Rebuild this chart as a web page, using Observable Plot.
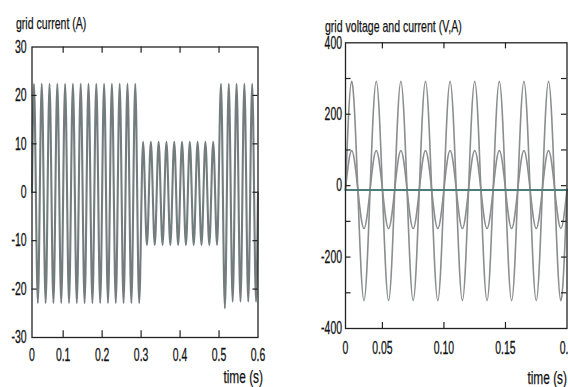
<!DOCTYPE html>
<html>
<head>
<meta charset="utf-8">
<script src="https://cdn.jsdelivr.net/npm/d3@7"></script>
<script src="https://cdn.jsdelivr.net/npm/@observablehq/plot@0.6"></script>
<style>
  html, body { margin: 0; padding: 0; background: #fff; }
  #wrap { position: relative; width: 568px; height: 387px; overflow: hidden; background: #fff; }
  #wrap > svg { position: absolute; left: 0; top: 0; }
  .lbl { position: absolute; font-family: "Liberation Sans", Arial, sans-serif; font-size: 17px; line-height: 1;
         transform: scaleX(0.62); transform-origin: left top; white-space: nowrap; color: #111;
         -webkit-text-stroke: 0.25px #111; }
  .lbl.r { font-size: 18px; transform: scaleX(0.66); transform-origin: right top; }
  svg text { stroke: #111; stroke-width: 0.3px; }
</style>
</head>
<body>
<div id="wrap">
  <div class="lbl" style="left:16px;top:15px">grid current (A)</div>
  <div class="lbl" style="left:325px;top:17.5px">grid voltage and current (V,A)</div>
  <div class="lbl r" style="right:305px;top:367.5px">time (s)</div>
  <div class="lbl r" style="right:1px;top:369px">time (s)</div>
</div>
<script>
// ---------------- Left panel: grid current (A) ----------------
const leftXTicks = [0.02, 0.1, 0.2, 0.3, 0.4, 0.5, 0.6];
const leftXLabels = ["0", "0.1", "0.2", "0.3", "0.4", "0.5", "0.6"];
const leftYTicks = [-30, -20, -10, 0, 10, 20, 30];
const leftFrameXTicks = [0.1, 0.2, 0.3, 0.4, 0.5];
const leftFrameYTicks = [-20, -10, 0, 10, 20];
// successive half-cycle extremes of the 50 Hz grid current (one every 0.01 s from 0.025 s)
const leftExtremes = [
  22.4, -22.9, 22.4, -22.9, 22.4, -22.9, 22.4, -22.9, 22.4, -22.9, 22.4, -22.9, 22.4, -22.9,
  22.4, -22.9, 22.4, -22.9, 22.4, -22.9, 22.4, -22.9, 22.4, -22.9, 22.4, -22.9, 22.4, -22.9,
  10.4, -10.9, 10.4, -10.9, 10.4, -10.9, 10.4, -10.9, 10.4, -10.9,
  10.4, -10.9, 10.4, -10.9, 10.4, -10.9, 10.4, -10.9, 10.4, -10.9,
  22.4, -24.0, 22.4, -22.6, 22.4, -22.6, 22.4, -22.6, 22.4, -22.6
];
const leftStart = 0.02, leftFirstExtreme = 0.025, leftHalfPeriod = 0.01, leftEnd = 0.6;

// ---------------- Right panel: grid voltage and current (V,A) ----------------
const rightXTicks = [0.02, 0.05, 0.10, 0.15, 0.2];
const rightXLabels = ["0", "0.05", "0.10", "0.15", "0.2"];
const rightYTicks = [-400, -200, 0, 200, 400];
const rightFrameXTicks = [0.05, 0.10, 0.15];
const rightFrameYTicks = [-300, -200, -100, 0, 100, 200, 300];
// values at every quarter period (0.005 s) from 0.02 s to 0.2 s
const rightStart = 0.02, rightQuarter = 0.005;
const gridVoltage = [
  -12, 292, -12, -322, -12, 292, -12, -322, -12, 292, -12, -322,
  -12, 292, -12, -322, -12, 292, -12, -322, -12, 292, -12, -322,
  -12, 292, -12, -322, -12, 292, -12, -322, -12, 292, -12, -322, -12
];
const gridCurrent = [
  -10, 98, -10, -120, -10, 98, -10, -120, -10, 98, -10, -120,
  -10, 98, -10, -120, -10, 98, -10, -120, -10, 98, -10, -120,
  -10, 98, -10, -120, -10, 98, -10, -120, -10, 98, -10, -120, -10
];
const flatLineT = [0.02, 0.2];
const flatLineV = [-12, -12];

// ---------------- build ----------------
const W = 568, H = 387;
const leftTimes = [leftStart, ...leftExtremes.map((_, i) => leftFirstExtreme + leftHalfPeriod * i), leftEnd];
const leftValues = [0, ...leftExtremes, 0];
const leftData = leftTimes.map((t, i) => ({t, v: leftValues[i]}));
const rightTimes = gridVoltage.map((_, i) => rightStart + rightQuarter * i);
const voltData = rightTimes.map((t, i) => ({t, v: gridVoltage[i]}));
const currData = rightTimes.map((t, i) => ({t, v: gridCurrent[i]}));
const flatData = flatLineT.map((t, i) => ({t, v: flatLineV[i]}));

const baseStyle = {background: "transparent", fontFamily: "Liberation Sans, Arial, sans-serif", fontSize: "18px", color: "#111"};
const frameStroke = "#222";

const left = Plot.plot({
  width: W, height: H,
  marginLeft: 31.5, marginRight: W - 257.5, marginTop: 46.5, marginBottom: H - 337,
  style: baseStyle,
  x: {domain: [0.02, 0.6], ticks: leftXTicks, tickFormat: d => leftXLabels[leftXTicks.indexOf(d)], tickSize: 0, tickPadding: 10.5, label: null},
  y: {domain: [-30, 30], ticks: leftYTicks, tickFormat: d => String(d), tickSize: 0, tickPadding: 5.5, label: null},
  marks: [
    Plot.line(leftData, {x: "t", y: "v", curve: "monotone-x", stroke: "#737d7d", strokeWidth: 2.1}),
    Plot.ruleX(leftFrameXTicks, {x: d => d, y1: 30, y2: 28.7, stroke: frameStroke, strokeWidth: 1.2}),
    Plot.ruleX(leftFrameXTicks, {x: d => d, y1: -30, y2: -28.6, stroke: frameStroke, strokeWidth: 1.2}),
    Plot.ruleY(leftFrameYTicks, {y: d => d, x1: 0.02, x2: 0.033, stroke: frameStroke, strokeWidth: 1.2}),
    Plot.ruleY(leftFrameYTicks, {y: d => d, x1: 0.587, x2: 0.6, stroke: frameStroke, strokeWidth: 1.2}),
    Plot.frame({stroke: frameStroke, strokeWidth: 1.3})
  ]
});

const right = Plot.plot({
  width: W, height: H,
  marginLeft: 345, marginRight: W - 566.5, marginTop: 42.3, marginBottom: H - 328,
  style: baseStyle,
  x: {domain: [0.02, 0.2], ticks: rightXTicks, tickFormat: d => rightXLabels[rightXTicks.indexOf(d)], tickSize: 0, tickPadding: 12.5, label: null},
  y: {domain: [-400, 400], ticks: rightYTicks, tickFormat: d => String(d), tickSize: 0, tickPadding: 3.5, label: null},
  marks: [
    Plot.line(voltData, {x: "t", y: "v", curve: "natural", stroke: "#8a8e8e", strokeWidth: 1.6}),
    Plot.line(currData, {x: "t", y: "v", curve: "natural", stroke: "#8a8e8e", strokeWidth: 1.6}),
    Plot.line(flatData, {x: "t", y: "v", stroke: "#4d7c7a", strokeWidth: 2}),
    Plot.ruleX(rightFrameXTicks, {x: d => d, y1: 400, y2: 383, stroke: frameStroke, strokeWidth: 1.2}),
    Plot.ruleX(rightFrameXTicks, {x: d => d, y1: -400, y2: -383, stroke: frameStroke, strokeWidth: 1.2}),
    Plot.ruleY(rightFrameYTicks, {y: d => d, x1: 0.02, x2: 0.0245, stroke: frameStroke, strokeWidth: 1.2}),
    Plot.ruleY(rightFrameYTicks, {y: d => d, x1: 0.1955, x2: 0.2, stroke: frameStroke, strokeWidth: 1.2}),
    Plot.frame({stroke: frameStroke, strokeWidth: 1.3})
  ]
});

// narrow the tick-label glyphs horizontally (condensed look of the original)
function squeeze(svg, sx) {
  svg.querySelectorAll("text").forEach(t => {
    const x = parseFloat(t.getAttribute("x"));
    if (!isNaN(x) && x !== 0) t.setAttribute("x", x / sx);
    const tr = t.getAttribute("transform") || "";
    t.setAttribute("transform", (tr + ` scale(${sx},1)`).trim());
  });
}
squeeze(left, 0.58);
squeeze(right, 0.58);

const wrap = document.getElementById("wrap");
wrap.appendChild(left);
wrap.appendChild(right);
</script>
</body>
</html>
